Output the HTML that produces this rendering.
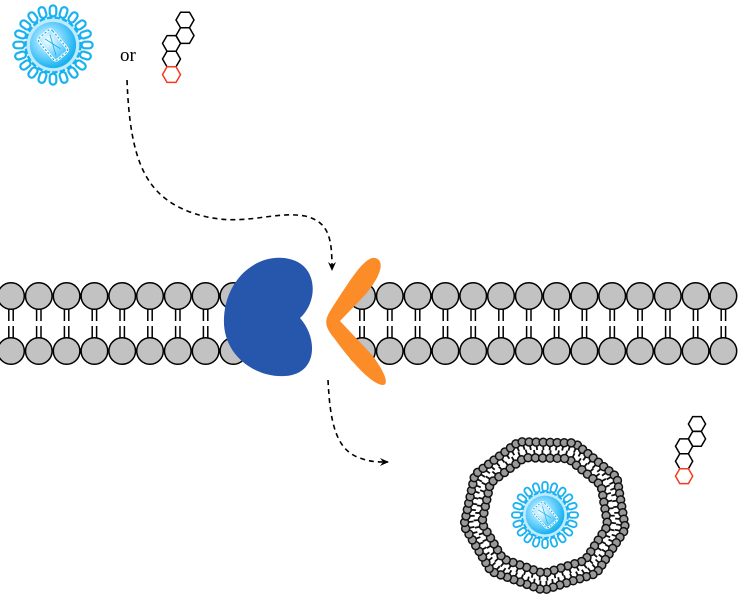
<!DOCTYPE html>
<html><head><meta charset="utf-8"><style>
html,body{margin:0;padding:0;background:#fff;width:739px;height:599px;overflow:hidden}
svg{display:block}
</style></head><body>
<svg id="s" width="739" height="599" viewBox="0 0 739 599" xmlns="http://www.w3.org/2000/svg">
<defs>
<radialGradient id="vg" cx="0.4" cy="0.4" r="0.6">
<stop offset="0" stop-color="#ffffff"/><stop offset="0.5" stop-color="#7fd8ff"/><stop offset="1" stop-color="#19b2f0"/>
</radialGradient>
<marker id="ah" markerWidth="10" markerHeight="10" refX="8" refY="5" orient="auto" markerUnits="userSpaceOnUse">
<path d="M0,1 L9,5 L0,9 L3,5 Z" fill="#000"/></marker>
</defs>
<g id="mem"></g>
<g id="ves"></g>
<g id="vir"></g>
<g id="hex"></g>
<text x="120" y="61" font-family="Liberation Serif, serif" font-size="19">or</text>
<path d="M127,80 C130,160 145,195 190,212 C240,230 270,210 305,216 C330,222 332,240 332,270" fill="none" stroke="#000" stroke-width="1.6" stroke-dasharray="5,4" marker-end="url(#ah)"/>
<path d="M328,380 C330,420 335,450 360,458 C370,462 378,462 388,462" fill="none" stroke="#000" stroke-width="1.6" stroke-dasharray="5,4" marker-end="url(#ah)"/>
<path d="M300,318 C318,302 318,268 293,260 C262,250 226,275 224,318 C222,355 255,378 285,376 C318,374 318,338 300,318 Z" fill="#2756ad"/>
<path d="M375,258 C385,260 382,275 365,295 L340,321 L372,355 C385,372 390,386 382,385 C370,383 350,360 334,338 C324,326 324,320 332,308 C348,284 364,256 375,258 Z" fill="#fb8c27"/>
</svg>
<script>
const NS="http://www.w3.org/2000/svg";
function el(p,t,a){const e=document.createElementNS(NS,t);for(const k in a)e.setAttribute(k,a[k]);p.appendChild(e);return e;}
const mem=document.getElementById('mem');
let xs=[];for(let k=0;k<9;k++)xs.push(11+27.8*k);
for(let k=0;k<14;k++)xs.push(362+27.8*k);
xs.forEach(x=>{
 [x-2.2,x+2.2].forEach(lx=>{el(mem,'line',{x1:lx,y1:309,x2:lx,y2:321,stroke:'#000','stroke-width':1.5});el(mem,'line',{x1:lx,y1:326,x2:lx,y2:338,stroke:'#000','stroke-width':1.5});});
 el(mem,'circle',{cx:x,cy:296,r:13.3,fill:'#c2c2c2',stroke:'#000','stroke-width':1.5});
 el(mem,'circle',{cx:x,cy:351,r:13.3,fill:'#c2c2c2',stroke:'#000','stroke-width':1.5});
});
// vesicle
const ves=document.getElementById('ves');
const cx=545,cy=514,N=9;
function poly(R,rot){let p=[];for(let i=0;i<N;i++){const a=rot+i*2*Math.PI/N;p.push([cx+R*Math.cos(a),cy+R*Math.sin(a)*0.93]);}return p;}
function ring(R,rot,tailR){const p=poly(R,rot);const q=poly(tailR,rot);for(let i=0;i<N;i++){const a=p[i],b=p[(i+1)%N],c=q[i],d=q[(i+1)%N];const L=Math.hypot(b[0]-a[0],b[1]-a[1]);const n=Math.round(L/6.8);for(let j=0;j<n;j++){const t=(j+0.5)/n;const X=a[0]+(b[0]-a[0])*t,Y=a[1]+(b[1]-a[1])*t;el(ves,'line',{x1:X,y1:Y,x2:c[0]+(d[0]-c[0])*t,y2:c[1]+(d[1]-c[1])*t,stroke:'#111','stroke-width':1.8});el(ves,'circle',{cx:X,cy:Y,r:4,fill:'#999',stroke:'#111','stroke-width':1.5});}}}
ring(82,-1.2,73);ring(64,-1.2,73);
// viruses
const vir=document.getElementById('vir');
function virus(x,y,s){
 const g=el(vir,'g',{transform:`translate(${x},${y}) scale(${s})`});
 for(let i=0;i<20;i++){const a=i*Math.PI*2/20;const r=31;
  el(g,'rect',{x:-3,y:-5,width:6,height:10,rx:3,fill:'#fff',stroke:'#19b2f0','stroke-width':2,transform:`rotate(${a*180/Math.PI+90}) translate(0,${-r})`});}
 el(g,'circle',{cx:0,cy:0,r:25,fill:'#bfeaff'});
 el(g,'circle',{cx:0,cy:0,r:25,fill:'none',stroke:'#19b2f0','stroke-width':2.2,'stroke-dasharray':'5,2'});
 el(g,'circle',{cx:0,cy:0,r:21,fill:'url(#vg)'});
 const cg=el(g,'g',{transform:'rotate(50)'});
 el(cg,'rect',{x:-13,y:-8,width:26,height:16,rx:3,fill:'none',stroke:'#fff','stroke-width':2.4});
 el(cg,'rect',{x:-13,y:-8,width:26,height:16,rx:3,fill:'none',stroke:'#19b2f0','stroke-width':1.1,'stroke-dasharray':'2,1.5'});
 el(cg,'path',{d:'M-9,-4 L9,4 M-9,2 L7,-3',stroke:'#19b2f0','stroke-width':0.8,fill:'none'});
}
virus(53,45,1.1);virus(545,515,0.92);
// steroids
const hx=document.getElementById('hex');
function hexa(x,y,r,c){let p=[];for(let i=0;i<6;i++){const a=i*Math.PI/3;p.push((x+r*Math.cos(a)).toFixed(1)+','+(y+r*Math.sin(a)).toFixed(1));}el(hx,'polygon',{points:p.join(' '),fill:'none',stroke:c,'stroke-width':1.5});}
function steroid(x,y,r){const h=r*Math.sqrt(3);
 hexa(x,y,r,'#000');hexa(x,y+h,r,'#000');hexa(x-1.5*r,y+1.5*h,r,'#000');hexa(x-1.5*r,y+2.5*h,r,'#000');hexa(x-1.5*r,y+3.5*h,r,'#f5391e');}
steroid(185,20,9);steroid(697,424,8.6);
</script>
</body></html>
